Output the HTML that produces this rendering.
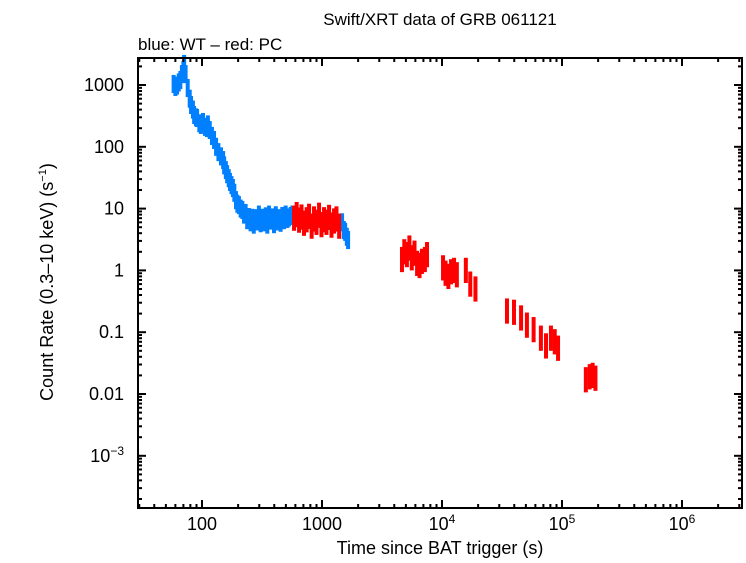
<!DOCTYPE html>
<html><head><meta charset="utf-8"><style>
body{margin:0;background:#fff;}
svg text{font-family:"Liberation Sans",sans-serif;fill:#000;}
</style></head><body>
<svg id="chart" width="746" height="558" xmlns="http://www.w3.org/2000/svg">
<text x="440" y="25" font-size="17" text-anchor="middle">Swift/XRT data of GRB 061121</text>
<text x="138" y="50" font-size="17">blue: WT – red: PC</text>
<text x="440" y="554" font-size="18" text-anchor="middle">Time since BAT trigger (s)</text>
<text transform="translate(53,282) rotate(-90)" font-size="18" text-anchor="middle">Count Rate (0.3–10 keV) (s<tspan font-size="11" dy="-7">−1</tspan><tspan dy="7">)</tspan></text>
<g id="marks"></g>
<g id="axes"></g>
</svg>
<script>
const wtTimes=[58,60,62,64,66,68,70,71,73,76,79,81,84,86,89,91,95,98,102,106,110,112,116,121,126,131,137,144,150,153,158,162,167,171,176,181,186,192,197,203,210,217,224,231,238,246,254,262,270,280,289,298,308,318,328,340,350,362,374,386,398,412,425,438,452,467,483,498,515,531,548,566,1470,1520,1560,1610,1650];
const wtRates=[1040,930,980,1100,1205,1500,1750,2190,1500,894,600,475,400,327,300,292,240,226,252,210,201,230,187,150,129,100,82,70,61,50,42,36,31,27,24,21.5,18,13.7,12,11.4,10,9.5,8,8.5,6.5,7.3,6,7.1,5.5,7,6.2,8,5.8,7.1,6,7.5,5.5,8,6.4,7.2,5.6,7.8,6.2,7,5.9,7.6,6.5,8,6.8,7.2,7.6,8,6,4.5,4.2,3.5,3.1];
const pcTimes=[585,615,644,675,708,745,780,820,858,900,945,990,1040,1090,1145,1200,1260,1320,1390,4640,4850,5100,5350,5600,5900,6200,6500,6800,7200,7500,10200,10700,11300,11900,12600,13300,15800,17200,19000,34800,39800,45600,51000,58000,66700,73600,80900,87000,92700,158000,170000,180000,190000];
const pcRates=[7,8,6.5,7.3,5.8,6.6,7.5,5.2,6.8,6,7.8,5.5,6.6,6,7.2,5.4,6.3,6.8,5.2,1.5,2,1.8,2.3,1.6,1.9,1.3,1.2,1.4,1.5,1.8,1.1,0.9,0.8,0.95,1.0,0.85,1.0,0.6,0.5,0.22,0.21,0.17,0.13,0.11,0.08,0.06,0.08,0.07,0.055,0.017,0.019,0.02,0.018];
const wtErr=0.4, pcErr=0.6;
const NS='http://www.w3.org/2000/svg';
const L=138,R=742,T=58,B=508;
function xs(t){return 202+120*(Math.log10(t)-2);}
function ys(v){return 85-61.8*(Math.log10(v)-3);}
function mk(tag,a,p){const e=document.createElementNS(NS,tag);for(const k in a)e.setAttribute(k,a[k]);p.appendChild(e);return e;}
const marks=document.getElementById('marks');
function series(times,rates,err,color,name){
  for(let i=0;i<times.length;i++){
    const x=xs(times[i]);
    const y1=ys(rates[i]*(1+err)),y2=ys(rates[i]/(1+err));
    const r=mk('rect',{x:x-2,y:y1,width:4,height:y2-y1,fill:color},marks);
    
    
  }
}
series(wtTimes,wtRates,wtErr,'#0080ff','wt');
series(pcTimes,pcRates,pcErr,'#ff0000','pc');
const ax=document.getElementById('axes');
const frame=mk('rect',{x:L,y:T,width:R-L,height:B-T,fill:'none',stroke:'#000','stroke-width':2},ax);


const xTickLabels=['100','1000','10<tspan font-size="12" dy="-7">4</tspan>','10<tspan font-size="12" dy="-7">5</tspan>','10<tspan font-size="12" dy="-7">6</tspan>'];
const xTickVals=[100,1000,1e4,1e5,1e6];
for(let d=1;d<=6;d++)for(let m=1;m<10;m++){const t=m*Math.pow(10,d);const x=xs(t);if(x<L||x>R)continue;const len=m==1?8:4;
  mk('line',{x1:x,y1:B,x2:x,y2:B-len,stroke:'#000','stroke-width':2},ax);
  mk('line',{x1:x,y1:T,x2:x,y2:T+len,stroke:'#000','stroke-width':2},ax);}
xTickVals.forEach((v,i)=>{const t=mk('text',{x:xs(v),y:530,'font-size':18,'text-anchor':'middle'},ax);t.innerHTML=xTickLabels[i];
  
  });
const yTickLabels=['1000','100','10','1','0.1','0.01','10<tspan font-size="12" dy="-7">−3</tspan>'];
const yTickVals=[1000,100,10,1,0.1,0.01,0.001];
for(let d=-4;d<=3;d++)for(let m=1;m<10;m++){const v=m*Math.pow(10,d);const y=ys(v);if(y<T||y>B)continue;const len=m==1?8:4;
  mk('line',{x1:L,y1:y,x2:L+len,y2:y,stroke:'#000','stroke-width':2},ax);
  mk('line',{x1:R,y1:y,x2:R-len,y2:y,stroke:'#000','stroke-width':2},ax);}
yTickVals.forEach((v,i)=>{const t=mk('text',{x:124,y:ys(v)+6,'font-size':18,'text-anchor':'end'},ax);t.innerHTML=yTickLabels[i];
  
  });
</script>
</body></html>
